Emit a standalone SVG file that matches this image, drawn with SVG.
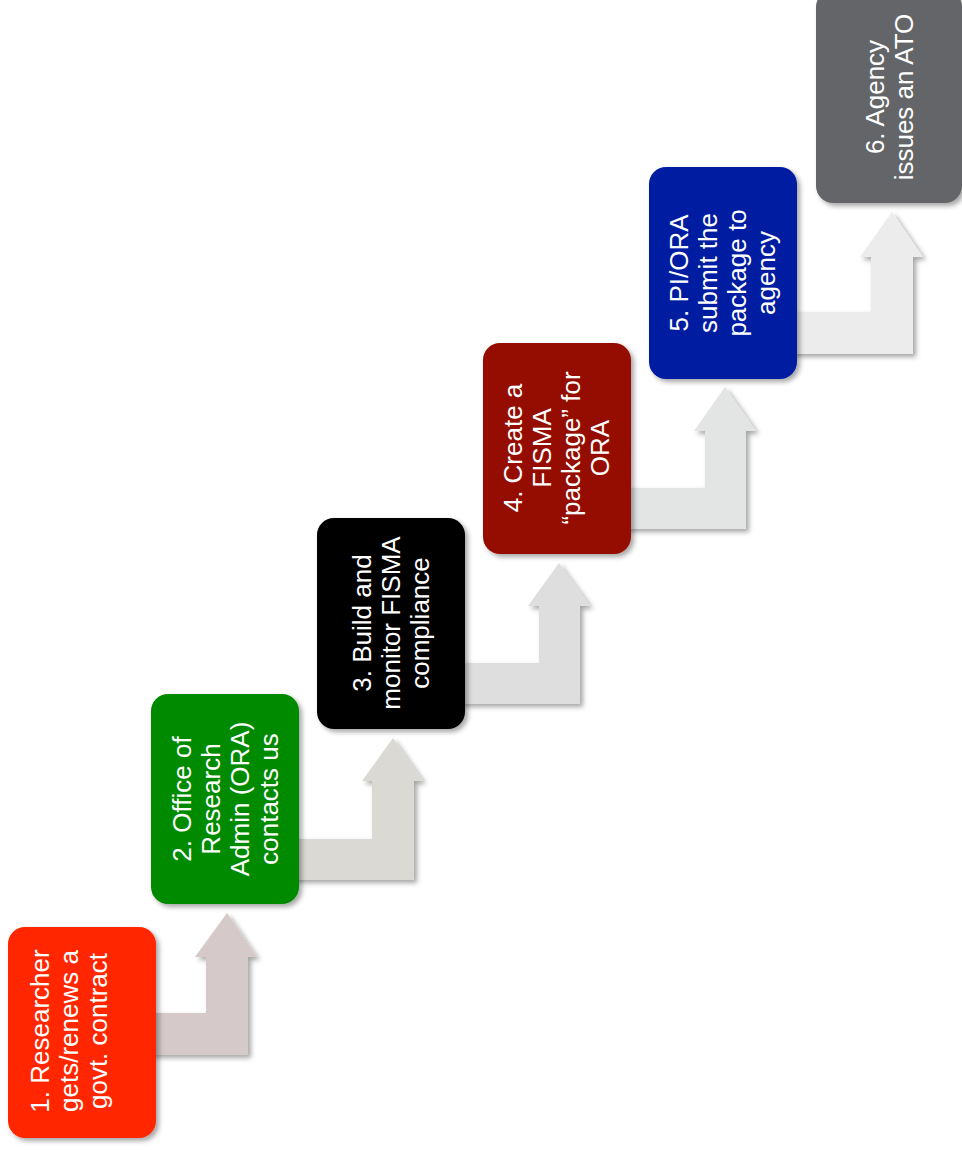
<svg xmlns="http://www.w3.org/2000/svg" width="962" height="1150" viewBox="0 0 962 1150">
<defs>
<filter id="sh" x="-20%" y="-20%" width="150%" height="150%">
<feDropShadow dx="3" dy="3" stdDeviation="2.5" flood-color="#000" flood-opacity="0.35"/>
</filter>
<style>
.box{filter:url(#sh);}
.lbl{font-family:"Liberation Sans",Arial,sans-serif;font-size:26px;fill:#fff;text-anchor:middle;}
.arr{filter:url(#sh);}
</style>
</defs>
<rect width="962" height="1150" fill="#fff"/>
<g id="connectors">
<polygon class="arr" fill="#D5C9CA" points="150,1013 206,1013 206,957 195,957 227,913 257,957 248,957 248,1055 150,1055"/>
<polygon class="arr" fill="#DAD9D4" points="293,839 372,839 372,781 362,781 393,738 423,781 414,781 414,880 293,880"/>
<polygon class="arr" fill="#DDDEDD" points="459,663 539,663 539,606 528,606 559,563 590,606 580,606 580,704 459,704"/>
<polygon class="arr" fill="#E3E4E4" points="625,488 705,488 705,431 694,431 725,387 756,431 746,431 746,529 625,529"/>
<polygon class="arr" fill="#ECECEC" points="791,312 871,312 871,257 860,257 892,212 923,257 913,257 913,354 791,354"/>
</g>
<g id="node1">
<rect class="box" x="8" y="927" width="148" height="211" rx="17" fill="#FF2600"/>
<text class="lbl" transform="translate(49,1031) rotate(-90)"><tspan x="0" y="0">1. Researcher</tspan><tspan x="0" y="29">gets/renews a</tspan><tspan x="0" y="58">govt. contract</tspan></text>
</g>
<g id="node2">
<rect class="box" x="151" y="694" width="148" height="210" rx="17" fill="#008A00"/>
<text class="lbl" transform="translate(191,799) rotate(-90)"><tspan x="0" y="0">2. Office of</tspan><tspan x="0" y="29">Research</tspan><tspan x="0" y="58">Admin (ORA)</tspan><tspan x="0" y="87">contacts us</tspan></text>
</g>
<g id="node3">
<rect class="box" x="317" y="518" width="148" height="211" rx="17" fill="#000000"/>
<text class="lbl" transform="translate(371,623) rotate(-90)"><tspan x="0" y="0">3. Build and</tspan><tspan x="0" y="29">monitor FISMA</tspan><tspan x="0" y="58">compliance</tspan></text>
</g>
<g id="node4">
<rect class="box" x="483" y="343" width="148" height="211" rx="17" fill="#941100"/>
<text class="lbl" transform="translate(522,448) rotate(-90)"><tspan x="0" y="0">4. Create a</tspan><tspan x="0" y="29">FISMA</tspan><tspan x="0" y="58">“package” for</tspan><tspan x="0" y="87">ORA</tspan></text>
</g>
<g id="node5">
<rect class="box" x="649" y="167" width="148" height="212" rx="17" fill="#001EA0"/>
<text class="lbl" transform="translate(688,273) rotate(-90)"><tspan x="0" y="0">5. PI/ORA</tspan><tspan x="0" y="29">submit the</tspan><tspan x="0" y="58">package to</tspan><tspan x="0" y="87">agency</tspan></text>
</g>
<g id="node6">
<rect class="box" x="816" y="-10" width="146" height="213" rx="17" fill="#646567"/>
<text class="lbl" transform="translate(884,97) rotate(-90)"><tspan x="0" y="0">6. Agency</tspan><tspan x="0" y="29">issues an ATO</tspan></text>
</g>
</svg>
